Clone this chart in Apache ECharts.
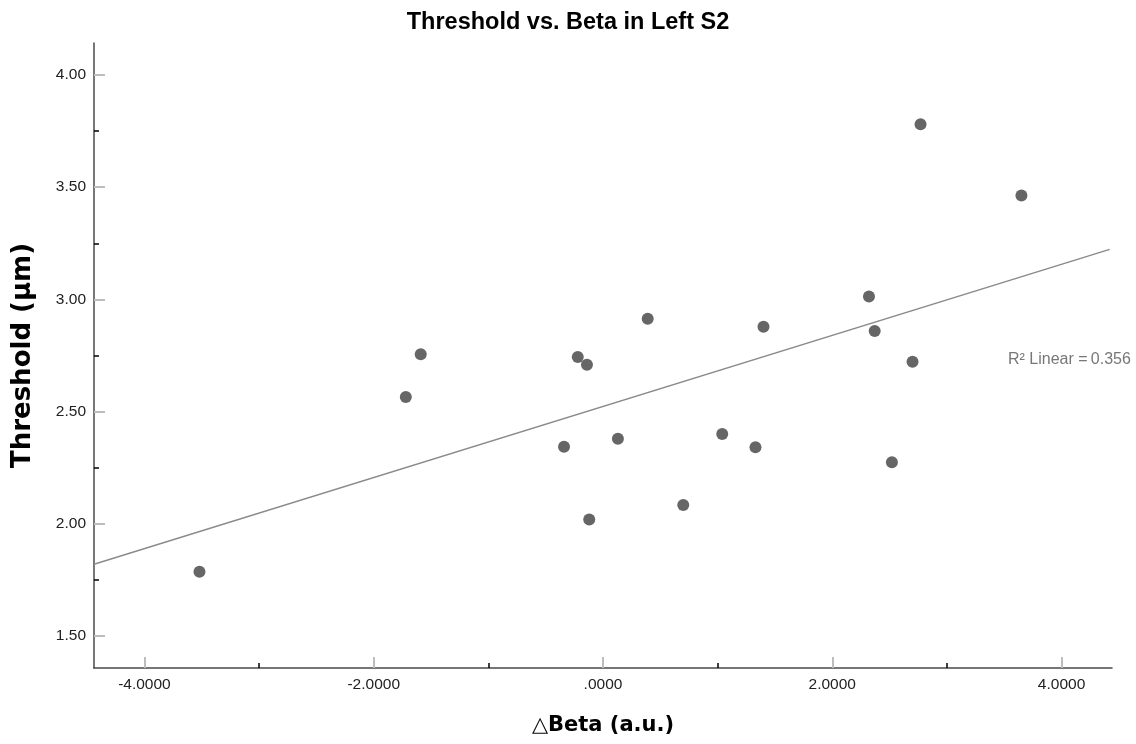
<!DOCTYPE html>
<html>
<head>
<meta charset="utf-8">
<script src="https://cdn.jsdelivr.net/npm/echarts@6/dist/echarts.min.js"></script>
<style>html,body{margin:0;padding:0;background:#fff;}#c{width:1136px;height:744px;}</style>
</head>
<body>
<div id="c"></div>
<script>
// ---- data ----
var betaValues = [-3.52, -1.72, -1.59, -0.34, -0.22, -0.14, -0.12, 0.13, 0.39, 0.70, 1.04, 1.33, 1.40, 2.32, 2.37, 2.52, 2.70, 2.77, 3.65];
var thresholdValues = [1.787, 2.565, 2.756, 2.344, 2.743, 2.709, 2.019, 2.379, 2.914, 2.084, 2.400, 2.341, 2.878, 3.013, 2.859, 2.274, 2.722, 3.780, 3.463];
var fitX = [-4.44, 4.42];
var fitY = [1.820, 3.223];
var xTickValues = [-4, -2, 0, 2, 4];
var xTickLabels = ['-4.0000', '-2.0000', '.0000', '2.0000', '4.0000'];
var xMinorValues = [-3, -1, 1, 3];
var yTickValues = [1.5, 2.0, 2.5, 3.0, 3.5, 4.0];
var yTickLabels = ['1.50', '2.00', '2.50', '3.00', '3.50', '4.00'];
var yMinorValues = [1.75, 2.25, 2.75, 3.25, 3.75];
var xRange = [-4.44, 4.44];
var yRange = [1.358, 4.142];
var r2Text = 'R\u00B2 Linear =\u20090.356';

var points = betaValues.map(function (v, i) { return [v, thresholdValues[i]]; });
var fitLine = fitX.map(function (v, i) { return [v, fitY[i]]; });

function lookup(values, labels) {
  return function (v) {
    for (var i = 0; i < values.length; i++) {
      if (Math.abs(values[i] - v) < 1e-9) return labels[i];
    }
    return '';
  };
}

var gridRect = { left: 94, right: 24, top: 43, bottom: 76 };
var labelStyle = { color: '#222', fontSize: 15.5, fontFamily: 'Liberation Sans, Arial, sans-serif' };

var chart = echarts.init(document.getElementById('c'), null, { renderer: 'canvas' });
chart.setOption({
  backgroundColor: '#fff',
  animation: false,
  title: {
    text: 'Threshold vs. Beta in Left S2',
    left: 'center',
    top: 6,
    textStyle: { fontFamily: 'Liberation Sans, Arial, sans-serif', fontWeight: 'bold', fontSize: 23.5, color: '#000' }
  },
  grid: [
    Object.assign({ containLabel: false }, gridRect),
    Object.assign({ containLabel: false }, gridRect)
  ],
  xAxis: [{
    type: 'value', gridIndex: 0, min: xRange[0], max: xRange[1],
    name: '\u25B3Beta (a.u.)', nameLocation: 'middle', nameGap: 47,
    nameTextStyle: { fontFamily: 'DejaVu Sans', fontWeight: 'bold', fontSize: 21, color: '#000' },
    axisLine: { show: true, onZero: false, lineStyle: { color: '#4a4a4a', width: 1.5 } },
    axisTick: { show: true, inside: true, length: 11, customValues: xTickValues, lineStyle: { color: '#bdbdbd', width: 2 } },
    axisLabel: Object.assign({ margin: 9, customValues: xTickValues, formatter: lookup(xTickValues, xTickLabels) }, labelStyle),
    splitLine: { show: false }
  }, {
    type: 'value', gridIndex: 1, min: xRange[0], max: xRange[1],
    axisLine: { show: false, onZero: false },
    axisTick: { show: true, inside: true, length: 5, customValues: xMinorValues, lineStyle: { color: '#000', width: 1.5 } },
    axisLabel: { show: false },
    splitLine: { show: false }
  }],
  yAxis: [{
    type: 'value', gridIndex: 0, min: yRange[0], max: yRange[1],
    name: 'Threshold (\u03BCm)', nameLocation: 'middle', nameGap: 58,
    nameTextStyle: { fontFamily: 'DejaVu Sans', fontWeight: 'bold', fontSize: 26, color: '#000' },
    axisLine: { show: true, onZero: false, lineStyle: { color: '#4a4a4a', width: 1.5 } },
    axisTick: { show: true, inside: true, length: 11, customValues: yTickValues, lineStyle: { color: '#bdbdbd', width: 2 } },
    axisLabel: Object.assign({ margin: 8, customValues: yTickValues, formatter: lookup(yTickValues, yTickLabels) }, labelStyle),
    splitLine: { show: false }
  }, {
    type: 'value', gridIndex: 1, min: yRange[0], max: yRange[1],
    axisLine: { show: false, onZero: false },
    axisTick: { show: true, inside: true, length: 5, customValues: yMinorValues, lineStyle: { color: '#000', width: 1.5 } },
    axisLabel: { show: false },
    splitLine: { show: false }
  }],
  series: [{
    type: 'line',
    xAxisIndex: 0, yAxisIndex: 0,
    data: fitLine,
    showSymbol: false,
    symbol: 'none',
    lineStyle: { color: '#8a8a8a', width: 1.4 },
    z: 2
  }, {
    type: 'scatter',
    xAxisIndex: 0, yAxisIndex: 0,
    data: points,
    symbol: 'circle',
    symbolSize: 12,
    itemStyle: { color: '#666666', opacity: 1 },
    z: 3
  }],
  graphic: [{
    type: 'text',
    left: 1008,
    top: 352,
    style: { text: r2Text, fill: '#777', fontSize: 16, fontFamily: 'Liberation Sans, Arial, sans-serif' }
  }]
});
</script>
</body>
</html>
